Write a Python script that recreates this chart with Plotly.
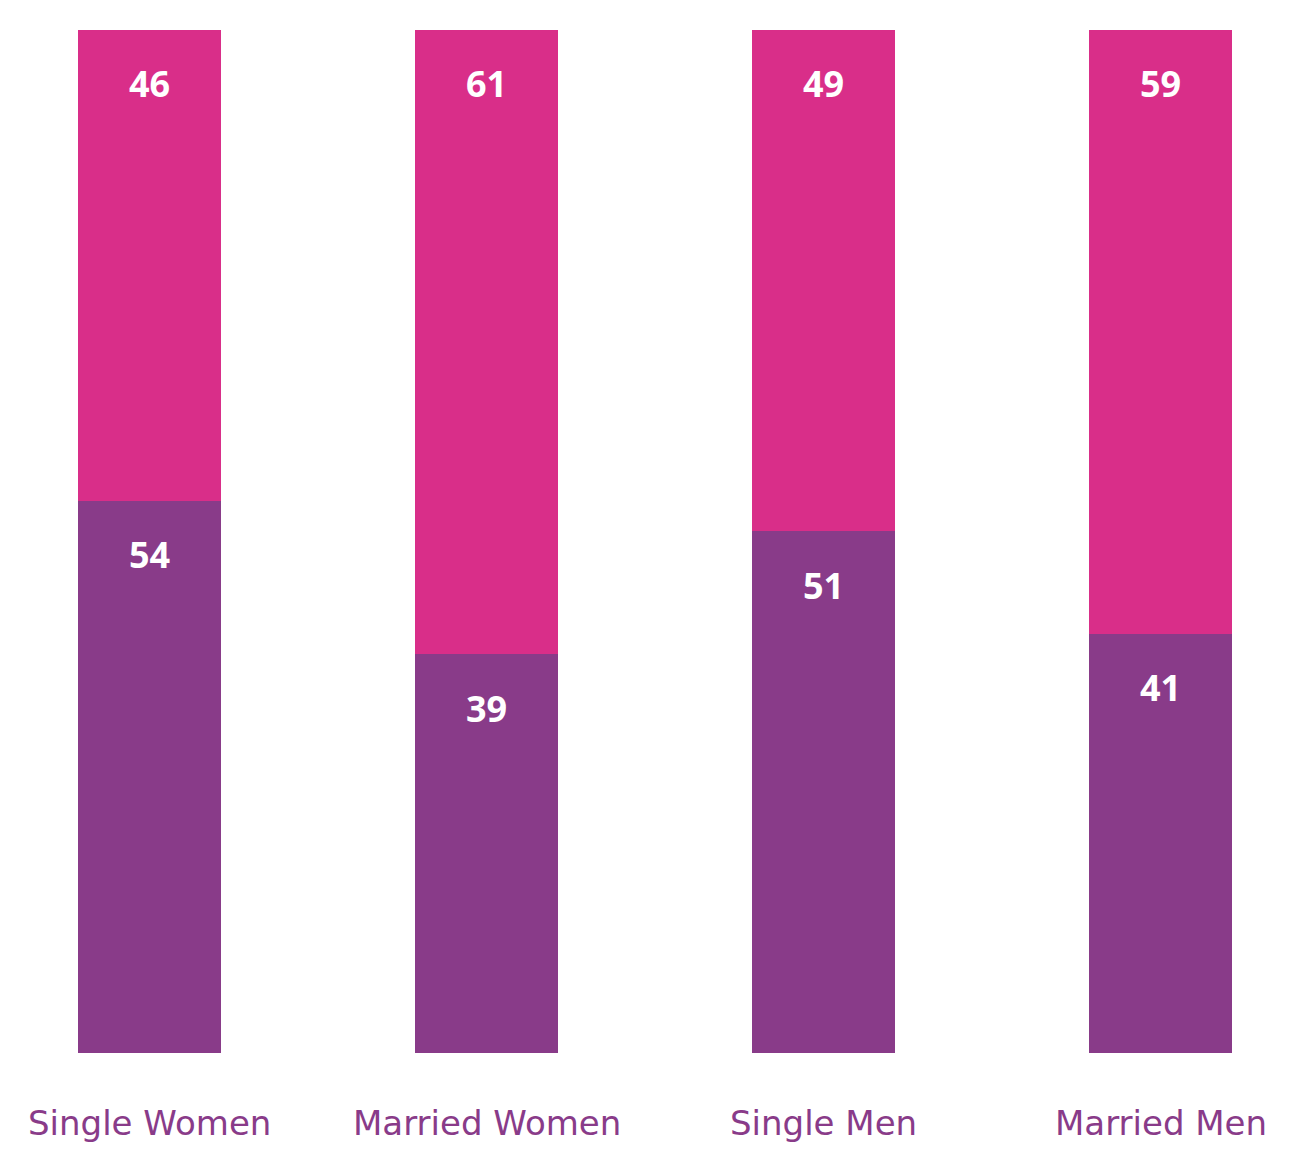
import plotly.graph_objects as go

categories = ["Single Women", "Married Women", "Single Men", "Married Men"]
bottom_values = [54, 39, 51, 41]
top_values = [46, 61, 49, 59]

PURPLE = "#893B89"
PINK = "#D92E89"

fig = go.Figure()
fig.add_trace(go.Bar(x=categories, y=bottom_values, marker=dict(color=PURPLE, line=dict(width=0)),
                     width=0.424, hoverinfo="skip"))
fig.add_trace(go.Bar(x=categories, y=top_values, marker=dict(color=PINK, line=dict(width=0)),
                     width=0.424, hoverinfo="skip"))

num_font = dict(family="Open Sans", size=36, color="white", weight="bold")
for c, b, t in zip(categories, bottom_values, top_values):
    fig.add_annotation(x=c, y=b + t, text=str(t), showarrow=False, yanchor="middle",
                       yshift=-53, font=num_font)
    fig.add_annotation(x=c, y=b, text=str(b), showarrow=False, yanchor="middle",
                       yshift=-54, font=num_font)
    fig.add_annotation(x=c, y=0, text=c, showarrow=False, yanchor="middle",
                       yshift=-70, font=dict(family="DejaVu Sans", size=34, color=PURPLE))

fig.update_layout(
    barmode="stack",
    width=1308, height=1168,
    margin=dict(l=0, r=0, t=22, b=123),
    paper_bgcolor="white", plot_bgcolor="white",
    showlegend=False,
    xaxis=dict(type="category", range=[-0.41988, 3.46143], showticklabels=False,
               showgrid=False, zeroline=False, showline=False, ticks=""),
    yaxis=dict(range=[0, 100], visible=False, showgrid=False, zeroline=False),
)

fig.write_html("out.html")
